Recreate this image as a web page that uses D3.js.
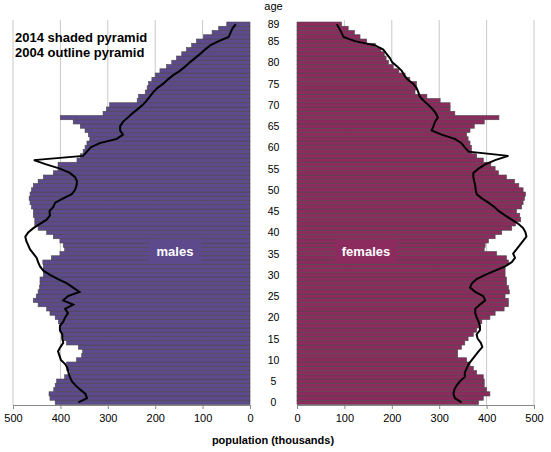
<!DOCTYPE html><html><head><meta charset="utf-8"><script src="https://cdn.jsdelivr.net/npm/d3@7"></script>
<style>body{margin:0;background:#fff}text{font-family:Arial,"Liberation Sans",sans-serif}</style></head><body><svg id="c" width="551" height="452"></svg><script>
const ages=d3.range(0,90);
const males2014=[411,422,424,414,411,408,391,380,387,387,366,355,353,362,387,394,397,401,401,404,411,422,429,447,457,451,447,444,443,443,436,436,436,437,419,401,391,394,401,415,429,447,454,454,457,457,461,464,466,464,461,457,447,436,415,405,405,365,358,352,348,344,338,341,348,358,373,400,310,303,296,238,235,221,217,214,207,200,190,176,165,155,144,134,123,113,98,80,66,49];
const males2004=[362,344,347,358,368,376,380,383,385,390,399,402,405,400,394,396,396,401,401,394,390,384,390,373,394,384,360,373,386,405,422,436,443,447,450,457,464,468,472,474,468,457,443,429,422,423,415,411,394,376,369,366,365,369,380,401,430,456,352,344,336,317,281,268,274,274,268,258,248,237,226,218,211,204,195,183,173,162,148,137,127,116,105,95,84,66,45,41,37,30];
const females2014=[383,393,407,400,395,395,393,379,372,365,358,339,339,347,354,361,372,379,386,390,407,418,437,446,446,439,448,446,442,442,439,439,439,446,442,421,395,397,404,418,432,453,461,472,470,463,474,477,480,482,477,468,459,442,425,418,409,393,379,368,368,365,361,358,365,374,395,426,333,323,323,302,274,249,252,252,238,228,215,203,193,188,184,177,165,147,133,121,108,94];
const females2004=[347,333,330,332,337,344,354,354,358,362,369,376,383,391,388,381,379,386,386,383,379,376,376,386,397,393,376,365,369,379,397,418,439,453,460,456,463,470,477,484,482,477,467,453,439,426,416,404,390,379,377,376,374,372,372,383,397,418,446,362,354,347,333,305,284,288,291,297,293,286,277,267,259,256,252,245,233,226,221,212,201,196,189,182,165,122,98,94,89,84];
const ticks=[0,100,200,300,400,500];
const ageTicks=[0,5,10,15,20,25,30,35,40,45,50,55,60,65,70,75,80,85,89];

const svg=d3.select("#c");
const y=d3.scaleBand().domain(ages).range([404.5,22]).paddingInner(0);
const xL=d3.scaleLinear().domain([0,500]).range([250,13]);
const xR=d3.scaleLinear().domain([0,500]).range([297,534]);
const plotTop=20,plotBot=405;
function panel(x,vals,old,color,left){
  const g=svg.append("g");
  g.selectAll(".gr").data(ticks.slice(1)).join("line").attr("x1",d=>x(d)).attr("x2",d=>x(d)).attr("y1",plotTop).attr("y2",plotBot).attr("stroke","#c8c8c8").attr("stroke-width",1);
  g.selectAll("rect").data(ages).join("rect")
   .attr("x",a=>left?x(vals[a]):x(0)).attr("width",a=>Math.abs(x(vals[a])-x(0)))
   .attr("y",a=>y(a)).attr("height",y.bandwidth())
   .attr("fill",color).attr("stroke","#4a4a4a").attr("stroke-width",0.6);
  g.append("path").datum(ages).attr("d",d3.line().x(a=>x(old[a])).y(a=>y(a)+y.bandwidth()/2))
   .attr("fill","none").attr("stroke","#000").attr("stroke-width",2);
  const ax=g.append("g").attr("transform","translate(0,"+plotBot+")").call(d3.axisBottom(x).tickValues(ticks).tickSize(4).tickSizeOuter(0));
  ax.select(".domain").attr("stroke","#888");
  ax.selectAll(".tick line").attr("stroke","#888");
  ax.selectAll("text").attr("font-size",11).attr("fill","#000").attr("dy","0.9em");
}
panel(xL,males2014,males2004,"#5d4a8c",true);
panel(xR,females2014,females2004,"#8c2b5e",false);
svg.selectAll(".at").data(ageTicks).join("text").attr("x",273.5).attr("y",a=>y(a)+y.bandwidth()/2+4).attr("text-anchor","middle").attr("font-size",10.5).text(a=>a);
svg.append("text").attr("x",273.5).attr("y",10).attr("text-anchor","middle").attr("font-size",11).text("age");
svg.append("text").attr("x",273).attr("y",444).attr("text-anchor","middle").attr("font-size",11).attr("font-weight","bold").text("population (thousands)");
svg.append("text").attr("x",15).attr("y",42).attr("font-size",13).attr("font-weight","bold").text("2014 shaded pyramid");
svg.append("text").attr("x",15).attr("y",57).attr("font-size",13).attr("font-weight","bold").text("2004 outline pyramid");
function lab(cx,w,t,c){svg.append("rect").attr("x",cx-w/2).attr("y",239).attr("width",w).attr("height",24).attr("fill",c);
 svg.append("text").attr("x",cx).attr("y",256).attr("text-anchor","middle").attr("font-size",13).attr("font-weight","bold").attr("fill","#fff").text(t);}
lab(175,52,"males","#5d4a8c");
lab(366,62,"females","#8c2b5e");
</script></body></html>
